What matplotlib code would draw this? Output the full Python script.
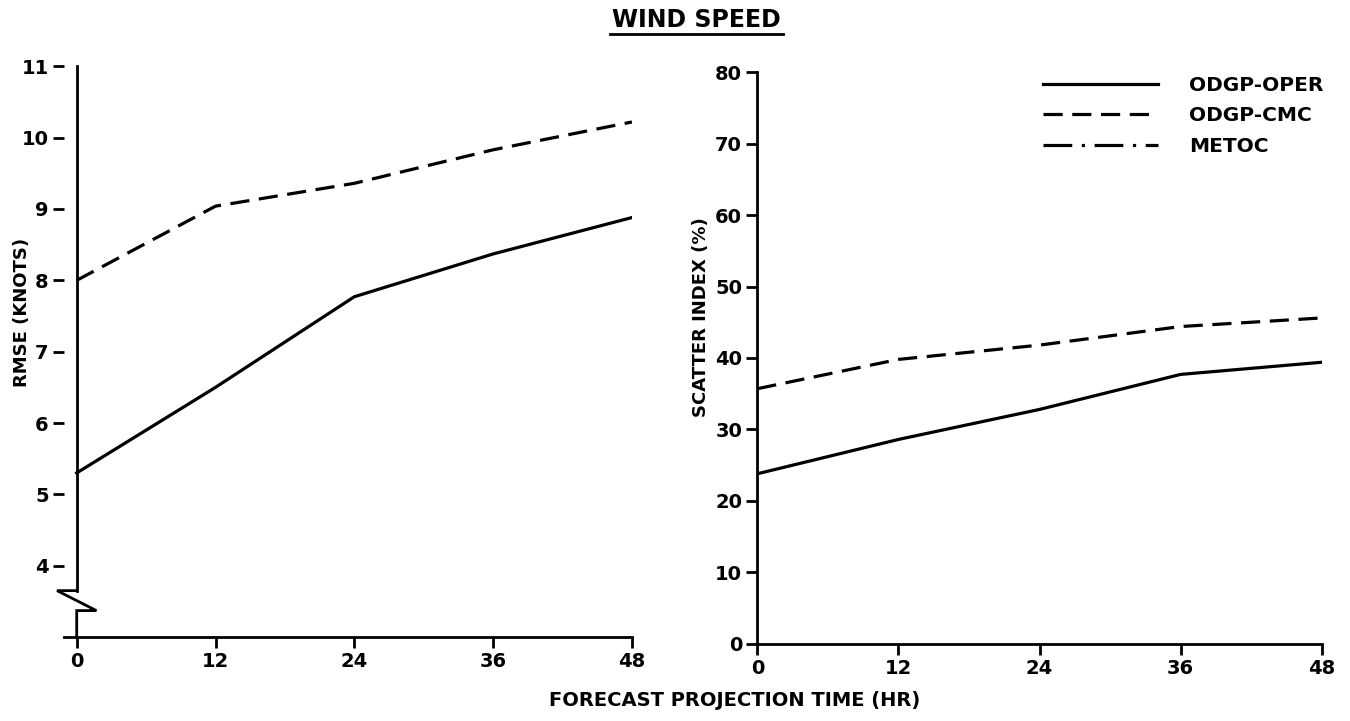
import matplotlib
matplotlib.use("Agg")
import matplotlib.pyplot as plt
from matplotlib.lines import Line2D

plt.rcParams['font.family'] = ['DejaVu Sans']
plt.rcParams['font.weight'] = 'bold'

hours = [0, 12, 24, 36, 48]

# RMSE (knots)
rmse_oper = [5.3, 6.5, 7.77, 8.37, 8.88]
rmse_cmc = [8.0, 9.04, 9.36, 9.83, 10.22]

# scatter index (%)
si_oper = [23.8, 28.6, 32.8, 37.7, 39.4]
si_cmc = [35.7, 39.8, 41.8, 44.4, 45.6]

legend_labels = ['ODGP-OPER', 'ODGP-CMC', 'METOC']

LW = 2.3
DASH = (0, (6, 3))
DASHDOT = (0, (9, 3, 1, 3))

fig = plt.figure(figsize=(13.5, 7.21), dpi=100)
ax1 = fig.add_axes([0.0474, 0.1165, 0.4207, 0.7915])
ax2 = fig.add_axes([0.561, 0.107, 0.418, 0.793])

# left panel
ax1.plot(hours, rmse_oper, color='black', lw=LW)
ax1.plot(hours, rmse_cmc, color='black', lw=LW, linestyle=DASH)
ax1.set_xlim(-1.1, 48)
ax1.set_ylim(3, 11)
for s in ['top', 'right', 'left']:
    ax1.spines[s].set_visible(False)
ax1.spines['bottom'].set_linewidth(2)
# y axis drawn by hand because of the break
brk = dict(color='black', lw=2, clip_on=False, solid_joinstyle='miter')
ax1.plot([0, 0], [11, 3.65], **brk)
ax1.plot([0, -1.7, 1.7, 0, 0], [3.65, 3.65, 3.37, 3.37, 3.0], **brk)
ax1.set_yticks(range(4, 12))
ax1.set_xticks(hours)
ax1.tick_params(axis='both', direction='out', length=8, width=2, labelsize=14, pad=3)
fig.text(0.016, 0.567, 'RMSE (KNOTS)', rotation=90, ha='center', va='center',
         fontsize=13, fontweight='bold')

# right panel
ax2.plot(hours, si_oper, color='black', lw=LW)
ax2.plot(hours, si_cmc, color='black', lw=LW, linestyle=DASH)
ax2.set_xlim(0, 48)
ax2.set_ylim(0, 80)
for s in ['top', 'right']:
    ax2.spines[s].set_visible(False)
for s in ['left', 'bottom']:
    ax2.spines[s].set_linewidth(2)
ax2.set_yticks(range(0, 81, 10))
ax2.set_xticks(hours)
ax2.tick_params(axis='both', direction='out', length=8, width=2, labelsize=14, pad=3)
fig.text(0.519, 0.56, 'SCATTER INDEX (%)', rotation=90, ha='center', va='center',
         fontsize=13, fontweight='bold')

handles = [Line2D([], [], color='black', lw=LW),
           Line2D([], [], color='black', lw=LW, linestyle=DASH),
           Line2D([], [], color='black', lw=LW, linestyle=DASHDOT)]
ax2.legend(handles, legend_labels, loc='upper left', bbox_to_anchor=(0.759, 0.92),
           bbox_transform=fig.transFigure,
           frameon=False, handlelength=5.7, handletextpad=1.55, labelspacing=0.58,
           prop={'size': 14.5, 'weight': 'bold'})

# title and shared x label
fig.text(0.516, 0.972, 'WIND SPEED', ha='center', va='center',
         fontsize=17, fontweight='bold')
fig.add_artist(Line2D([0.452, 0.58], [0.953, 0.953], color='black', lw=2))
fig.text(0.544, 0.028, 'FORECAST PROJECTION TIME (HR)', ha='center', va='center',
         fontsize=14, fontweight='bold')

fig.savefig('out.png', dpi=100, facecolor='white')
